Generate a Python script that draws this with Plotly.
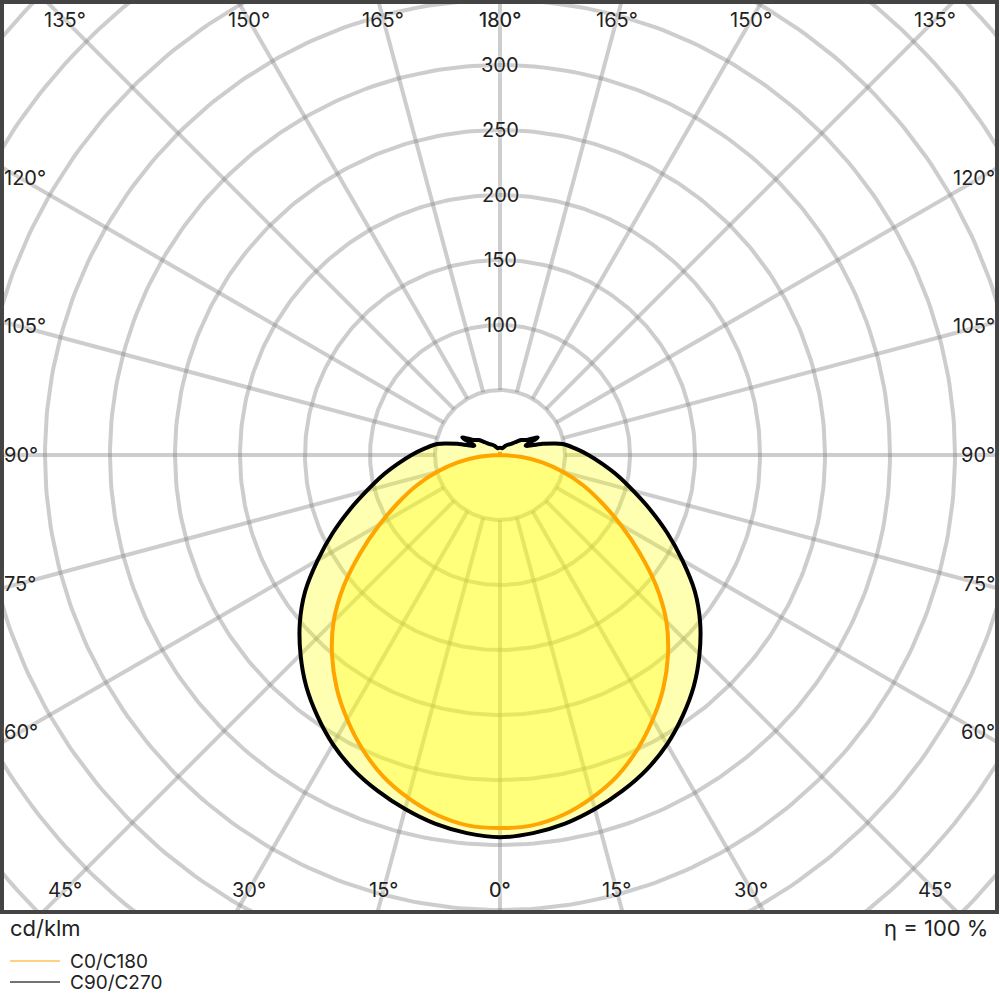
import numpy as np
import plotly.graph_objects as go

# gamma angles (deg), 0 = straight down, 180 = straight up
gamma = list(range(0, 181, 5))

# C0/C180 plane, cd/klm (left half / right half of the diagram)
c0_left = [287, 286, 281, 273, 263, 250, 235, 219, 201, 181, 157, 131, 107, 86, 68, 50, 33, 16, 0,
           0, 0, 0, 0, 0, 0, 0, 0, 0, 0, 0, 0, 0, 0, 0, 0, 0, 2.5]
c0_right = [287, 286, 281, 273, 263, 250, 235, 219, 201, 181, 157, 131, 107, 86, 68, 50, 33, 16, 0,
            0, 0, 0, 0, 0, 0, 0, 0, 0, 0, 0, 0, 0, 0, 0, 0, 0, 2.5]

# C90/C270 plane, cd/klm
c90_left = [294, 292, 288, 282, 275, 267, 257, 245, 232, 217, 201, 183, 162, 142, 123, 106, 92, 79, 68,
            58, 49, 33, 21, 32, 23, 20, 15.5, 12, 10.5, 9.4, 8, 6.5, 5.5, 5.5, 5.5, 5.5, 5.5]
c90_right = [294, 292, 288, 282, 275, 267, 257, 245, 232, 217, 201, 183, 162, 142, 123, 106, 92, 79, 68,
             58, 49, 33, 21, 32, 23, 20, 15.5, 12, 10.5, 9.4, 8, 6.5, 5.5, 5.5, 5.5, 5.5, 5.5]

ring_values = [50, 100, 150, 200, 250, 300, 350, 400, 450, 500, 550]
ring_labels = [100, 150, 200, 250, 300]
spoke_angles = list(range(0, 360, 15))

PX = 1.3  # pixels per cd/klm
W, H = 1000, 1000
L, T, R, B = 2, 2, 3, 88
plot_w, plot_h = W - L - R, H - T - B
cx, cy = 500, 455  # pole position in pixels

xr = [-(cx - L) / PX, (W - R - cx) / PX]
yr = [-(H - B - cy) / PX, (cy - T) / PX]

GRID = 'rgba(130,130,130,0.4)'
FONT = dict(family='Inter, Noto Sans, sans-serif', size=20, color='#222')
FONT_BIG = dict(FONT, size=22)
FONT_LEG = dict(FONT, size=19)


def to_xy(g, r, side):
    g = np.radians(np.asarray(g, dtype=float))
    r = np.asarray(r, dtype=float)
    return side * r * np.sin(g), -r * np.cos(g)


def closed_curve(left, right):
    xl, yl = to_xy(gamma, left, -1)
    xr_, yr_ = to_xy(gamma, right, 1)
    x = np.concatenate([xl[::-1], xr_[1:]])
    y = np.concatenate([yl[::-1], yr_[1:]])
    return x, y


def px2paper(px, py):
    return (px - L) / plot_w, (H - B - py) / plot_h


fig = go.Figure()

# grid: rings
t = np.linspace(0, 2 * np.pi, 361)
gx, gy = [], []
for rv in ring_values:
    gx += list(rv * np.cos(t)) + [None]
    gy += list(rv * np.sin(t)) + [None]
fig.add_trace(go.Scatter(x=gx, y=gy, mode='lines', line=dict(color=GRID, width=4),
                         hoverinfo='skip', showlegend=False))

# grid: spokes every 15 deg, starting at the first ring
sx, sy = [], []
for a in spoke_angles:
    ar = np.radians(a)
    sx += [50 * np.sin(ar), 700 * np.sin(ar), None]
    sy += [-50 * np.cos(ar), -700 * np.cos(ar), None]
fig.add_trace(go.Scatter(x=sx, y=sy, mode='lines', line=dict(color=GRID, width=4),
                         hoverinfo='skip', showlegend=False))

# fills
bx, by = closed_curve(c90_left, c90_right)
ox, oy = closed_curve(c0_left, c0_right)
black_line = dict(shape='spline', smoothing=0.9)
orange_line = dict(shape='spline', smoothing=1.0)
fig.add_trace(go.Scatter(x=bx, y=by, mode='lines', fill='toself', fillcolor='rgba(255,255,0,0.3)',
                         line=dict(width=0, **black_line), hoverinfo='skip', showlegend=False))
fig.add_trace(go.Scatter(x=ox, y=oy, mode='lines', fill='toself', fillcolor='rgba(255,255,0,0.3)',
                         line=dict(width=0, **orange_line), hoverinfo='skip', showlegend=False))

# outlines
fig.add_trace(go.Scatter(x=bx, y=by, mode='lines', name='C90/C270',
                         line=dict(color='black', width=4, **black_line), showlegend=False))
fig.add_trace(go.Scatter(x=ox, y=oy, mode='lines', name='C0/C180',
                         line=dict(color='#FFA500', width=4, **orange_line), showlegend=False))

annotations = []
label_style = dict(showarrow=False, font=dict(FONT, shadow='0px 0px 3px white'))

# intensity labels on the vertical axis
for v in ring_labels:
    annotations.append(dict(x=0, y=v, text=str(v), xanchor='center', yanchor='middle', **label_style))

# angle labels along the frame
top_y = 435 / PX
side_x = 480 / PX
for a in [135, 150, 165, 180]:
    off = top_y * np.tan(np.radians(180 - a))
    for s in (-1, 1):
        annotations.append(dict(x=s * off, y=top_y, text=f'{a}°', xanchor='center', yanchor='middle', **label_style))
for a in [0, 15, 30, 45]:
    off = top_y * np.tan(np.radians(a))
    for s in (-1, 1):
        annotations.append(dict(x=s * off, y=-top_y, text=f'{a}°', xanchor='center', yanchor='middle', **label_style))
for a in [60, 75, 90, 105, 120]:
    yy = -side_x / np.tan(np.radians(a)) if a != 90 else 0
    annotations.append(dict(x=-(cx - L) / PX, y=yy, text=f'{a}°', xanchor='left', yanchor='middle', **label_style))
    annotations.append(dict(x=(W - R - cx) / PX, y=yy, text=f'{a}°', xanchor='right', yanchor='middle', **label_style))

# texts under the frame
px_, py_ = px2paper(8, 928)
annotations.append(dict(x=px_, y=py_, xref='paper', yref='paper', text='cd/klm', showarrow=False,
                        xanchor='left', yanchor='middle', font=FONT_BIG))
px_, py_ = px2paper(990, 928)
annotations.append(dict(x=px_, y=py_, xref='paper', yref='paper', text='η = 100 %', showarrow=False,
                        xanchor='right', yanchor='middle', font=FONT_BIG))

# legend drawn by hand
shapes = [dict(type='rect', xref='paper', yref='paper', x0=0, x1=1, y0=0, y1=1,
               line=dict(color='#444', width=4), layer='above')]
legend_items = [('C0/C180', 'rgba(255,165,0,0.5)', 961), ('C90/C270', 'rgba(0,0,0,0.55)', 982)]
for name, col, yy in legend_items:
    x0, y0 = px2paper(10, yy)
    x1, _ = px2paper(60, yy)
    shapes.append(dict(type='line', xref='paper', yref='paper', x0=x0, x1=x1, y0=y0, y1=y0,
                       line=dict(color=col, width=2)))
    tx, _ = px2paper(68, yy)
    annotations.append(dict(x=tx, y=y0, xref='paper', yref='paper', text=name, showarrow=False,
                            xanchor='left', yanchor='middle', font=FONT_LEG))

fig.update_layout(
    width=W, height=H,
    margin=dict(l=L, r=R, t=T, b=B),
    paper_bgcolor='white', plot_bgcolor='white',
    showlegend=False,
    xaxis=dict(range=xr, visible=False, fixedrange=True),
    yaxis=dict(range=yr, visible=False, fixedrange=True),
    annotations=annotations,
    shapes=shapes,
)

fig.write_html('out.html', config={'displayModeBar': False},
               post_script="document.body.style.margin='0px';")
